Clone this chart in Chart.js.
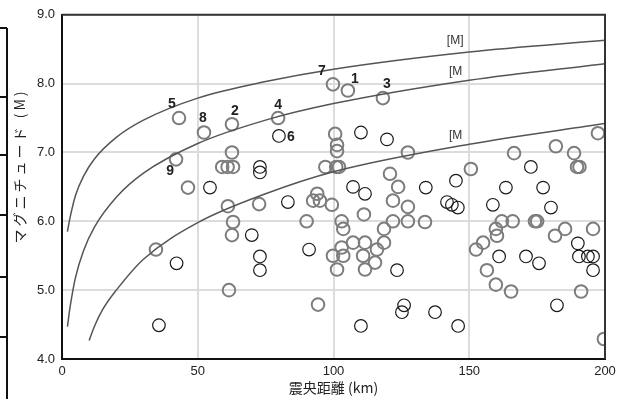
<!DOCTYPE html>
<html>
<head>
<meta charset="utf-8">
<script src="https://cdn.jsdelivr.net/npm/chart.js@4"></script>
<style>
  body { margin: 0; background: #fff; }
</style>
</head>
<body>
<canvas id="quakeChart" width="622" height="399"></canvas>
<script>
// 震央距離 (km) と マグニチュード の読み取り値
const greyDist = [43.1, 52.3, 62.6, 42.0, 79.6, 99.8, 105.3, 118.2, 62.6, 59, 61, 63, 46.4, 61.1, 63, 62.6, 61.5, 34.6,
    100.6, 101.3, 101.3, 127.4, 97, 101, 102, 120.8, 123.8, 121.9, 127.4, 72.6, 94, 92.5, 95, 99.4, 111.2, 90.1,
    103, 103.6, 118.6, 121.9, 127.4, 133.7, 107.2, 111.6, 118.6, 103, 99.8, 103.6, 110.9, 116, 115.3, 101.3, 111.6,
    94.3, 197.4, 181.9, 188.6, 189.7, 190.6, 166.5, 150.6, 162, 166, 174.2, 175, 159.8, 160.2, 181.6, 185.3, 195.6,
    155.1, 152.5, 156.5, 159.8, 165.4, 191.2, 199.6];
const greyMag = [7.50, 7.29, 7.41, 6.90, 7.50, 7.99, 7.90, 7.79, 7.00, 6.79, 6.79, 6.79, 6.49, 6.22, 5.99, 5.80, 5.00, 5.59,
    7.27, 7.11, 7.02, 7.00, 6.79, 6.79, 6.79, 6.69, 6.50, 6.30, 6.21, 6.25, 6.40, 6.30, 6.30, 6.24, 6.10, 6.00,
    6.00, 5.89, 5.89, 6.00, 6.00, 5.99, 5.69, 5.69, 5.69, 5.62, 5.50, 5.50, 5.50, 5.59, 5.40, 5.30, 5.30,
    4.79, 7.28, 7.09, 6.99, 6.79, 6.79, 6.99, 6.76, 6.00, 6.00, 6.00, 6.00, 5.89, 5.79, 5.79, 5.89, 5.89,
    5.69, 5.59, 5.29, 5.08, 4.98, 4.98, 4.29];

const blackDist = [79.9, 54.5, 42.2, 35.7, 110.1, 119.7, 72.9, 72.9, 107.2, 111.6, 83.2, 69.9, 72.9, 72.9, 91.0, 123.4,
    126, 125.2, 110.1, 172.7, 145.1, 134, 163.5, 177.2, 141.8, 143.6, 145.8, 158.7, 180.1, 161, 170.9, 175.7, 190,
    190.4, 193.7, 195.6, 195.6, 182.3, 137.4, 145.9];
const blackMag = [7.24, 6.49, 5.39, 4.49, 7.29, 7.19, 6.79, 6.71, 6.50, 6.40, 6.28, 5.80, 5.49, 5.29, 5.59, 5.29,
    4.78, 4.68, 4.48, 6.79, 6.59, 6.49, 6.49, 6.49, 6.28, 6.24, 6.20, 6.24, 6.20, 5.49, 5.49, 5.39, 5.68,
    5.49, 5.49, 5.49, 5.29, 4.78, 4.68, 4.48];

// 3本の曲線 (読み取り点)
const upperCurveDist = [2, 3, 5, 8, 12, 20, 30, 50, 75, 100, 150, 200];
const upperCurveMag = [5.85, 6.06, 6.38, 6.66, 6.91, 7.22, 7.47, 7.79, 8.03, 8.21, 8.46, 8.63];
const middleCurveDist = [2, 3, 5, 8, 12, 20, 30, 50, 75, 100, 150, 200];
const middleCurveMag = [4.47, 4.76, 5.19, 5.58, 5.92, 6.35, 6.70, 7.13, 7.47, 7.71, 8.05, 8.29];
const lowerCurveDist = [10, 12, 15, 20, 30, 50, 75, 100, 150, 200];
const lowerCurveMag = [4.27, 4.48, 4.72, 5.00, 5.45, 5.98, 6.40, 6.72, 7.12, 7.42];

// 番号付きの地震
const eventNo = ['1', '2', '3', '4', '5', '6', '7', '8', '9'];
const eventDist = [105.3, 62.6, 118.2, 79.6, 43.1, 79.9, 99.8, 52.3, 42.0];
const eventMag = [7.90, 7.41, 7.79, 7.50, 7.50, 7.24, 7.99, 7.29, 6.90];

const curveNames = ['[M]', '[M', '[M'];

const xTickValues = [0, 50, 100, 150, 200];
const yTickLabels = ['4.0', '5.0', '6.0', '7.0', '8.0', '9.0'];
const yTitle = 'マグニチュード (M)';

function toPoints(xs, ys) {
    return xs.map((x, i) => ({ x: x, y: ys[i] }));
}

function curve(xs, ys) {
    return {
        data: toPoints(xs, ys),
        showLine: true,
        borderColor: '#555',
        borderWidth: 1.5,
        pointRadius: 0,
        tension: 0.4,
        cubicInterpolationMode: 'monotone',
        fill: false
    };
}

// 番号と [M] の文字、縦軸タイトル
const labelPlugin = {
    id: 'labelPlugin',
    beforeDraw(chart) {
        // 左端に切れて見える隣の図の枠
        const ctx = chart.ctx;
        ctx.save();
        ctx.strokeStyle = '#111';
        ctx.lineWidth = 2;
        ctx.beginPath();
        ctx.moveTo(7, 28);
        ctx.lineTo(7, chart.height);
        [28, 97, 155, 215, 277, 337].forEach(y => {
            ctx.moveTo(0, y);
            ctx.lineTo(7, y);
        });
        ctx.stroke();

        // 縦軸タイトル (字間あり)
        ctx.translate(20, 166);
        ctx.rotate(-Math.PI / 2);
        ctx.fillStyle = '#222';
        ctx.font = '14px "Noto Sans CJK JP", sans-serif';
        ctx.letterSpacing = '3px';
        ctx.textAlign = 'center';
        ctx.textBaseline = 'middle';
        ctx.fillText(yTitle, 0, 0);
        ctx.restore();
    },
    afterDatasetsDraw(chart) {
        const ctx = chart.ctx;
        const xs = chart.scales.x, ys = chart.scales.y;
        const area = chart.chartArea;
        ctx.save();
        // 枠の上と右
        ctx.strokeStyle = '#333';
        ctx.lineWidth = 2;
        ctx.beginPath();
        ctx.moveTo(area.left, area.top);
        ctx.lineTo(area.right, area.top);
        ctx.lineTo(area.right, area.bottom);
        ctx.stroke();

        const offsets = {
            '1': [7, -11], '2': [3, -13], '3': [4, -14], '4': [0, -13], '5': [-7, -14],
            '6': [12, 1], '7': [-11, -13], '8': [-1, -14], '9': [-6, 12]
        };
        ctx.fillStyle = '#222';
        ctx.font = 'bold 14px "Liberation Sans Narrow", "Liberation Sans", sans-serif';
        ctx.textAlign = 'center';
        ctx.textBaseline = 'middle';
        eventNo.forEach((n, i) => {
            const px = xs.getPixelForValue(eventDist[i]);
            const py = ys.getPixelForValue(eventMag[i]);
            ctx.fillText(n, px + offsets[n][0], py + offsets[n][1]);
        });

        const namePos = [[144.8, 8.62], [145, 8.18], [145, 7.25]];
        ctx.fillStyle = '#333';
        ctx.font = '12px "Liberation Sans", sans-serif';
        curveNames.forEach((t, i) => {
            ctx.fillText(t, xs.getPixelForValue(namePos[i][0]), ys.getPixelForValue(namePos[i][1]));
        });
        ctx.restore();
    }
};

const ctx = document.getElementById('quakeChart').getContext('2d');
new Chart(ctx, {
    type: 'scatter',
    data: {
        datasets: [
            curve(upperCurveDist, upperCurveMag),
            curve(middleCurveDist, middleCurveMag),
            curve(lowerCurveDist, lowerCurveMag),
            {
                data: toPoints(greyDist, greyMag),
                pointRadius: 6.3,
                pointBorderWidth: 2,
                pointBorderColor: '#7d7d7d',
                pointBackgroundColor: 'rgba(0,0,0,0)'
            },
            {
                data: toPoints(blackDist, blackMag),
                pointRadius: 6.3,
                pointBorderWidth: 1.2,
                pointBorderColor: '#1a1a1a',
                pointBackgroundColor: 'rgba(0,0,0,0)'
            }
        ]
    },
    options: {
        responsive: false,
        animation: false,
        devicePixelRatio: 1,
        layout: { padding: { top: 13, right: 17, left: 0, bottom: 0 } },
        plugins: {
            legend: { display: false },
            tooltip: { enabled: false }
        },
        scales: {
            x: {
                type: 'linear',
                min: 0,
                max: 200,
                afterBuildTicks: axis => { axis.ticks = xTickValues.map(v => ({ value: v })); },
                afterFit: axis => { axis.height = 40; },
                ticks: {
                    color: '#222',
                    padding: 5,
                    font: { family: '"Liberation Sans", Arial, sans-serif', size: 13 }
                },
                grid: { color: '#dcdcdc', lineWidth: 2, drawTicks: false, tickLength: 0 },
                border: { color: '#111', width: 2 },
                title: {
                    display: true,
                    text: '震央距離 (km)',
                    color: '#222',
                    padding: { top: 0, bottom: 3 },
                    font: { family: '"Noto Sans CJK JP", "Liberation Sans", sans-serif', size: 14 }
                }
            },
            y: {
                type: 'linear',
                min: 4,
                max: 9,
                afterFit: axis => { axis.width = 62; },
                ticks: {
                    stepSize: 1,
                    color: '#222',
                    padding: 7,
                    font: { family: '"Liberation Sans", Arial, sans-serif', size: 13 },
                    callback: (v) => yTickLabels[Math.round(v - 4)]
                },
                grid: { color: '#dcdcdc', lineWidth: 2, drawTicks: false, tickLength: 0 },
                border: { color: '#111', width: 2 }
            }
        }
    },
    plugins: [labelPlugin]
});
</script>
</body>
</html>
